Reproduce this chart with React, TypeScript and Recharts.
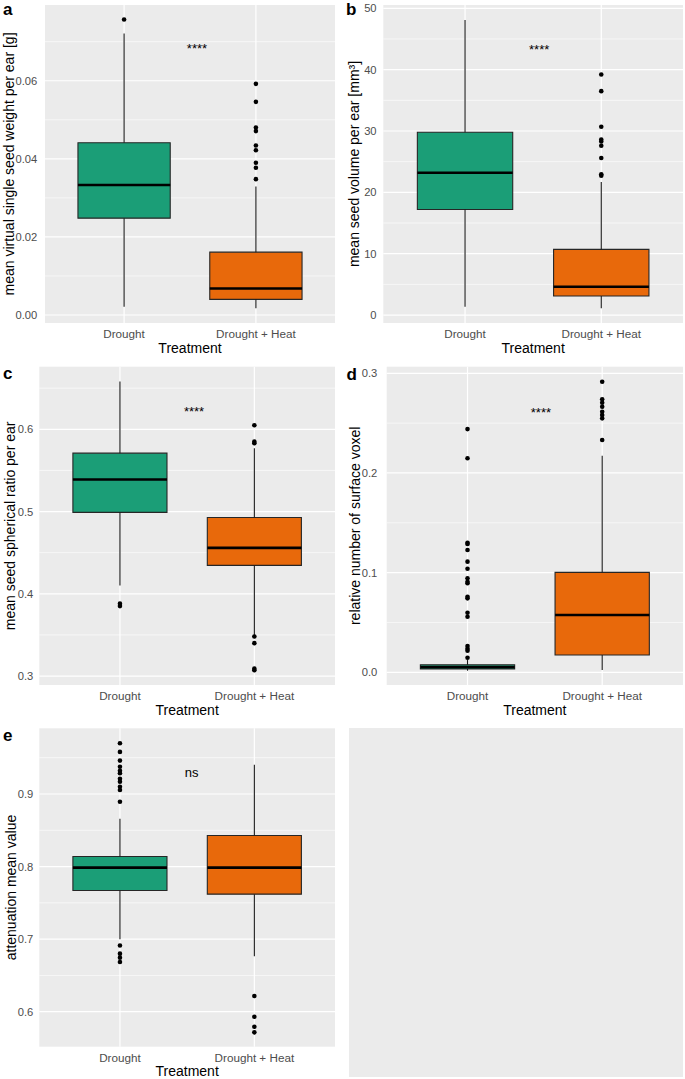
import React from 'react'
import {
  ComposedChart,
  XAxis,
  YAxis,
  CartesianGrid,
  ReferenceArea,
  ReferenceLine,
  Scatter,
} from 'recharts'

const treatments = ['Drought', 'Drought + Heat']
const boxColors = ['#1B9E77', '#E8690B']

type Stats = { lo: number; q1: number; med: number; q3: number; hi: number }

// a: mean virtual single seed weight per ear [g]
const weightBoxes: Stats[] = [
  { lo: 0.0021, q1: 0.0248, med: 0.0333, q3: 0.0441, hi: 0.0721 },
  { lo: 0.0017, q1: 0.004, med: 0.0068, q3: 0.0161, hi: 0.0329 },
]
const weightOutDrought = [0.0757]
const weightOutHeat = [0.0592, 0.0546, 0.048, 0.0471, 0.0434, 0.0422, 0.039, 0.0377, 0.0348]
const weightTicks = [0, 0.02, 0.04, 0.06]
const weightMinor = [0.01, 0.03, 0.05, 0.07]

// b: mean seed volume per ear [mm³]
const volumeBoxes: Stats[] = [
  { lo: 1.35, q1: 17.2, med: 23.2, q3: 29.8, hi: 48.1 },
  { lo: 1.1, q1: 3.1, med: 4.6, q3: 10.7, hi: 21.7 },
]
const volumeOutDrought: number[] = []
const volumeOutHeat = [39.2, 36.5, 30.7, 28.6, 28.3, 27.6, 25.6, 22.95, 22.7]
const volumeTicks = [0, 10, 20, 30, 40, 50]
const volumeMinor = [5, 15, 25, 35, 45]

// c: mean seed spherical ratio per ear
const ratioBoxes: Stats[] = [
  { lo: 0.41, q1: 0.499, med: 0.539, q3: 0.571, hi: 0.658 },
  { lo: 0.349, q1: 0.4346, med: 0.4558, q3: 0.4927, hi: 0.577 },
]
const ratioOutDrought = [0.388, 0.385]
const ratioOutHeat = [0.605, 0.585, 0.583, 0.348, 0.34, 0.309, 0.307]
const ratioTicks = [0.3, 0.4, 0.5, 0.6]
const ratioMinor = [0.35, 0.45, 0.55, 0.65]

// d: relative number of surface voxel
const surfaceBoxes: Stats[] = [
  { lo: 0.0016, q1: 0.0033, med: 0.005, q3: 0.0075, hi: 0.0123 },
  { lo: 0.0023, q1: 0.0174, med: 0.0575, q3: 0.1003, hi: 0.2173 },
]
const surfaceOutDrought = [
  0.244, 0.2147, 0.13, 0.1287, 0.1227, 0.111, 0.1039, 0.0943, 0.0909, 0.0893,
  0.0758, 0.0742, 0.0598, 0.0558, 0.0264, 0.0237, 0.0217, 0.0146,
]
const surfaceOutHeat = [0.2915, 0.274, 0.2704, 0.2664, 0.2614, 0.2581, 0.2548, 0.233]
const surfaceTicks = [0, 0.1, 0.2, 0.3]
const surfaceMinor = [0.05, 0.15, 0.25]

// e: attenuation mean value
const attenBoxes: Stats[] = [
  { lo: 0.7, q1: 0.767, med: 0.7986, q3: 0.8138, hi: 0.866 },
  { lo: 0.6765, q1: 0.762, med: 0.7986, q3: 0.8427, hi: 0.9404 },
]
const attenOutDrought = [
  0.9698, 0.958, 0.946, 0.9376, 0.932, 0.9285, 0.921, 0.917, 0.91, 0.9055, 0.8894,
  0.6913, 0.68, 0.6745, 0.6685,
]
const attenOutHeat = [0.6216, 0.5931, 0.5793, 0.5716]
const attenTicks = [0.6, 0.7, 0.8, 0.9]
const attenMinor = [0.65, 0.75, 0.85, 0.95]

const HALF_BOX = 0.35

type Rect = { left: number; top: number; right: number; bottom: number }

interface PanelProps {
  cell: { left: number; top: number; width: number; height: number }
  plot: Rect
  domain: [number, number]
  ticks: number[]
  minor: number[]
  fmt: (v: number) => string
  boxes: Stats[]
  outliers: number[][]
  yTitle: string
  titleX: number
  letter: string
  letterPos: [number, number]
  tickGap: number
  sig: { text: string; x: number; y: number }
}

function BoxPanel(p: PanelProps) {
  const { cell, plot } = p
  const margin = {
    top: plot.top - cell.top,
    right: cell.left + cell.width - plot.right,
    bottom: 0,
    left: 0,
  }
  const yAxisWidth = plot.left - cell.left
  const xAxisHeight = cell.top + cell.height - plot.bottom
  const points = p.outliers.flatMap((vals, i) => vals.map((v) => ({ x: i + 1, y: v })))

  return (
    <div style={{ position: 'absolute', left: cell.left, top: cell.top }}>
      <ComposedChart width={cell.width} height={cell.height} margin={margin}>
        <CartesianGrid
          fill="#EBEBEB"
          stroke="#FFFFFF"
          strokeWidth={0.6}
          vertical={false}
          horizontalValues={p.minor}
        />
        <CartesianGrid
          stroke="#FFFFFF"
          strokeWidth={1.2}
          horizontalValues={p.ticks}
          verticalValues={[1, 2]}
        />
        <XAxis
          type="number"
          dataKey="x"
          domain={[0.4, 2.6]}
          ticks={[1, 2]}
          allowDataOverflow
          interval={0}
          tickFormatter={(v: number) => treatments[v - 1]}
          axisLine={false}
          tickLine={false}
          tickSize={0}
          tickMargin={6.5}
          height={xAxisHeight}
          tick={{ fill: '#4D4D4D', fontSize: 11.7 }}
          label={(lp: any) => {
            const vb = lp.viewBox
            return (
              <text x={vb.x + vb.width / 2} y={vb.y + 29.5} textAnchor="middle" fontSize={14} fill="#000">
                Treatment
              </text>
            )
          }}
        />
        <YAxis
          type="number"
          dataKey="y"
          domain={p.domain}
          ticks={p.ticks}
          allowDataOverflow
          interval={0}
          tickFormatter={p.fmt}
          axisLine={false}
          tickLine={false}
          tickSize={0}
          tickMargin={p.tickGap}
          width={yAxisWidth}
          tick={{ fill: '#4D4D4D', fontSize: 11.2 }}
          label={(lp: any) => {
            const vb = lp.viewBox
            const cy = vb.y + vb.height / 2
            const tx = p.titleX - cell.left
            return (
              <g>
                <text
                  x={tx}
                  y={cy}
                  transform={`rotate(-90 ${tx} ${cy})`}
                  textAnchor="middle"
                  fontSize={14}
                  fill="#000"
                >
                  {p.yTitle}
                </text>
                <text
                  x={p.letterPos[0] - cell.left}
                  y={p.letterPos[1] - cell.top}
                  fontSize={17}
                  fontWeight="bold"
                  fill="#000"
                >
                  {p.letter}
                </text>
              </g>
            )
          }}
        />
        {p.boxes.map((s, i) => (
          <ReferenceLine
            key={`wu${i}`}
            segment={[{ x: i + 1, y: s.q3 }, { x: i + 1, y: s.hi }]}
            stroke="#1A1A1A"
            strokeWidth={1.1}
          />
        ))}
        {p.boxes.map((s, i) => (
          <ReferenceLine
            key={`wl${i}`}
            segment={[{ x: i + 1, y: s.lo }, { x: i + 1, y: s.q1 }]}
            stroke="#1A1A1A"
            strokeWidth={1.1}
          />
        ))}
        {p.boxes.map((s, i) => (
          <ReferenceArea
            key={`box${i}`}
            x1={i + 1 - HALF_BOX}
            x2={i + 1 + HALF_BOX}
            y1={s.q1}
            y2={s.q3}
            fill={boxColors[i]}
            fillOpacity={1}
            stroke="#262626"
            strokeWidth={1.1}
          />
        ))}
        {p.boxes.map((s, i) => (
          <ReferenceLine
            key={`med${i}`}
            segment={[{ x: i + 1 - HALF_BOX, y: s.med }, { x: i + 1 + HALF_BOX, y: s.med }]}
            stroke="#000000"
            strokeWidth={2.6}
          />
        ))}
        <Scatter
          data={points}
          dataKey="y"
          isAnimationActive={false}
          shape={(sp: any) => <circle cx={sp.cx} cy={sp.cy} r={2.3} fill="#000" />}
        />
        <Scatter
          data={[{ x: p.sig.x, y: p.sig.y }]}
          dataKey="y"
          isAnimationActive={false}
          shape={(sp: any) => (
            <text x={sp.cx} y={sp.cy} textAnchor="middle" fontSize={13} fill="#000">
              {p.sig.text}
            </text>
          )}
        />
      </ComposedChart>
    </div>
  )
}

const f2 = (v: number) => v.toFixed(2)
const f1 = (v: number) => v.toFixed(1)
const f0 = (v: number) => v.toFixed(0)

export default function App() {
  return (
    <div
      style={{
        position: 'absolute',
        left: 0,
        top: 0,
        width: 685,
        height: 1079,
        background: '#FFFFFF',
        fontFamily: '"Liberation Sans", Arial, sans-serif',
        overflow: 'hidden',
      }}
    >
      <BoxPanel
        cell={{ left: 0, top: 0, width: 340, height: 360 }}
        plot={{ left: 45, top: 5, right: 335, bottom: 323 }}
        domain={[-0.00205, 0.0794]}
        ticks={weightTicks}
        minor={weightMinor}
        fmt={f2}
        boxes={weightBoxes}
        outliers={[weightOutDrought, weightOutHeat]}
        yTitle="mean virtual single seed weight per ear [g]"
        titleX={13.5}
        letter="a"
        letterPos={[3, 15]}
        tickGap={7.7}
        sig={{ text: '****', x: 1.553, y: 0.067 }}
      />
      <BoxPanel
        cell={{ left: 340, top: 0, width: 345, height: 360 }}
        plot={{ left: 383.3, top: 5, right: 683, bottom: 323 }}
        domain={[-1.3, 50.54]}
        ticks={volumeTicks}
        minor={volumeMinor}
        fmt={f0}
        boxes={volumeBoxes}
        outliers={[volumeOutDrought, volumeOutHeat]}
        yTitle="mean seed volume per ear [mm³]"
        titleX={358.5}
        letter="b"
        letterPos={[346, 15]}
        tickGap={6.7}
        sig={{ text: '****', x: 1.544, y: 42.56 }}
      />
      <BoxPanel
        cell={{ left: 0, top: 360, width: 340, height: 360 }}
        plot={{ left: 39.3, top: 366.7, right: 335, bottom: 685 }}
        domain={[0.2891, 0.6761]}
        ticks={ratioTicks}
        minor={ratioMinor}
        fmt={f1}
        boxes={ratioBoxes}
        outliers={[ratioOutDrought, ratioOutHeat]}
        yTitle="mean seed spherical ratio per ear"
        titleX={15}
        letter="c"
        letterPos={[3, 378.5]}
        tickGap={6}
        sig={{ text: '****', x: 1.551, y: 0.6157 }}
      />
      <BoxPanel
        cell={{ left: 340, top: 360, width: 345, height: 360 }}
        plot={{ left: 386.7, top: 366.7, right: 683, bottom: 685 }}
        domain={[-0.01274, 0.3066]}
        ticks={surfaceTicks}
        minor={surfaceMinor}
        fmt={f1}
        boxes={surfaceBoxes}
        outliers={[surfaceOutDrought, surfaceOutHeat]}
        yTitle="relative number of surface voxel"
        titleX={360}
        letter="d"
        letterPos={[346.5, 380]}
        tickGap={9.4}
        sig={{ text: '****', x: 1.545, y: 0.2565 }}
      />
      <BoxPanel
        cell={{ left: 0, top: 720, width: 340, height: 359 }}
        plot={{ left: 39.3, top: 728.3, right: 335, bottom: 1046.7 }}
        domain={[0.5518, 0.9905]}
        ticks={attenTicks}
        minor={attenMinor}
        fmt={f1}
        boxes={attenBoxes}
        outliers={[attenOutDrought, attenOutHeat]}
        yTitle="attenuation mean value"
        titleX={15.5}
        letter="e"
        letterPos={[3, 740.7]}
        tickGap={6}
        sig={{ text: 'ns', x: 1.534, y: 0.9238 }}
      />
      <div
        style={{
          position: 'absolute',
          left: 349,
          top: 728,
          width: 334,
          height: 349,
          background: '#EBEBEB',
        }}
      />
    </div>
  )
}
